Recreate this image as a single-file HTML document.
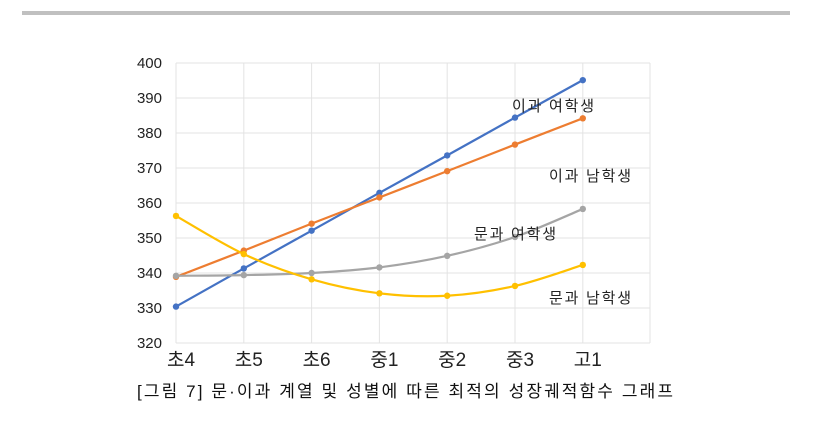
<!DOCTYPE html>
<html><head><meta charset="utf-8"><style>
body{margin:0;width:819px;height:420px;background:#fff;overflow:hidden;font-family:"Liberation Sans","Noto Sans CJK KR",sans-serif;}
svg text{font-family:"Liberation Sans","Noto Sans CJK KR",sans-serif;}
</style></head><body>
<svg id="chart" width="819" height="420">
<rect x="22" y="11" width="768" height="4" fill="#c0c0c0"/>
<g id="grid"></g><g id="series"></g><g id="labels"></g>
<text x="137" y="397" font-size="17" fill="#111" textLength="536" lengthAdjust="spacing">[그림 7] 문·이과 계열 및 성별에 따른 최적의 성장궤적함수 그래프</text>
</svg>
<script>
const categories=["초4","초5","초6","중1","중2","중3","고1"];
const yTicks=[320,330,340,350,360,370,380,390,400];
const sciFemale=[330.4,341.3,352.1,362.9,373.6,384.4,395.1];
const sciMale=[338.9,346.4,354.1,361.6,369.1,376.7,384.2];
const humFemale=[339.2,339.4,340.0,341.6,344.9,350.3,358.3];
const humMale=[356.3,345.4,338.2,334.2,333.5,336.3,342.3];
const seriesNames=["이과 여학생","이과 남학생","문과 여학생","문과 남학생"];
const ns="http://www.w3.org/2000/svg";
const L=176,R=650,T=63,B=343,step=67.8;
const x=i=>L+i*step;
const y=v=>B-(v-320)/80*(B-T);
function mk(tag,attrs,parent){const e=document.createElementNS(ns,tag);for(const k in attrs)e.setAttribute(k,attrs[k]);parent.appendChild(e);return e;}
const grid=document.getElementById('grid'),ser=document.getElementById('series'),lab=document.getElementById('labels');
yTicks.forEach(t=>{
 const l=mk('line',{x1:L,x2:R,y1:y(t),y2:y(t),stroke:'#e3e3e3'},grid);
 
 
 const tx=mk('text',{x:162,y:y(t)+5,'text-anchor':'end','font-size':15,fill:'#222'},grid);tx.textContent=t;
 
 
});
categories.forEach((c,i)=>{
 const l=mk('line',{x1:x(i),x2:x(i),y1:T,y2:B,stroke:'#e3e3e3'},grid);
 
 
 const tx=mk('text',{x:x(i)+5,y:366,'text-anchor':'middle','font-size':19,fill:'#222'},grid);tx.textContent=c;
 
 
});
const rl=mk('line',{x1:R,x2:R,y1:T,y2:B,stroke:'#e3e3e3'},grid);


function smooth(pts){let d=`M${pts[0][0]},${pts[0][1]}`;for(let i=0;i<pts.length-1;i++){const p0=pts[i-1]||pts[i],p1=pts[i],p2=pts[i+1],p3=pts[i+2]||p2;const k=1/6;d+=` C${p1[0]+(p2[0]-p0[0])*k},${p1[1]+(p2[1]-p0[1])*k} ${p2[0]-(p3[0]-p1[0])*k},${p2[1]-(p3[1]-p1[1])*k} ${p2[0]},${p2[1]}`;}return d;}
const all=[[sciFemale,'#4472c4','sci-female'],[sciMale,'#ed7d31','sci-male'],[humFemale,'#a5a5a5','hum-female'],[humMale,'#ffc000','hum-male']];
all.forEach(([vals,col,nm])=>{
 const pts=vals.map((v,i)=>[x(i),y(v)]);
 const p=mk('path',{d:smooth(pts),fill:'none',stroke:col,'stroke-width':2.2},ser);
 
 
 pts.forEach(q=>{const c=mk('circle',{cx:q[0],cy:q[1],r:3.2,fill:col},ser);
  
  });
});
const labPos=[[512,111],[549,181],[474,239],[549,303]];
seriesNames.forEach((s,i)=>{
 const t=mk('text',{x:labPos[i][0],y:labPos[i][1],'font-size':15,fill:'#222',textLength:82,lengthAdjust:'spacing'},lab);t.textContent=s;
 
 
});
</script>
</body></html>
